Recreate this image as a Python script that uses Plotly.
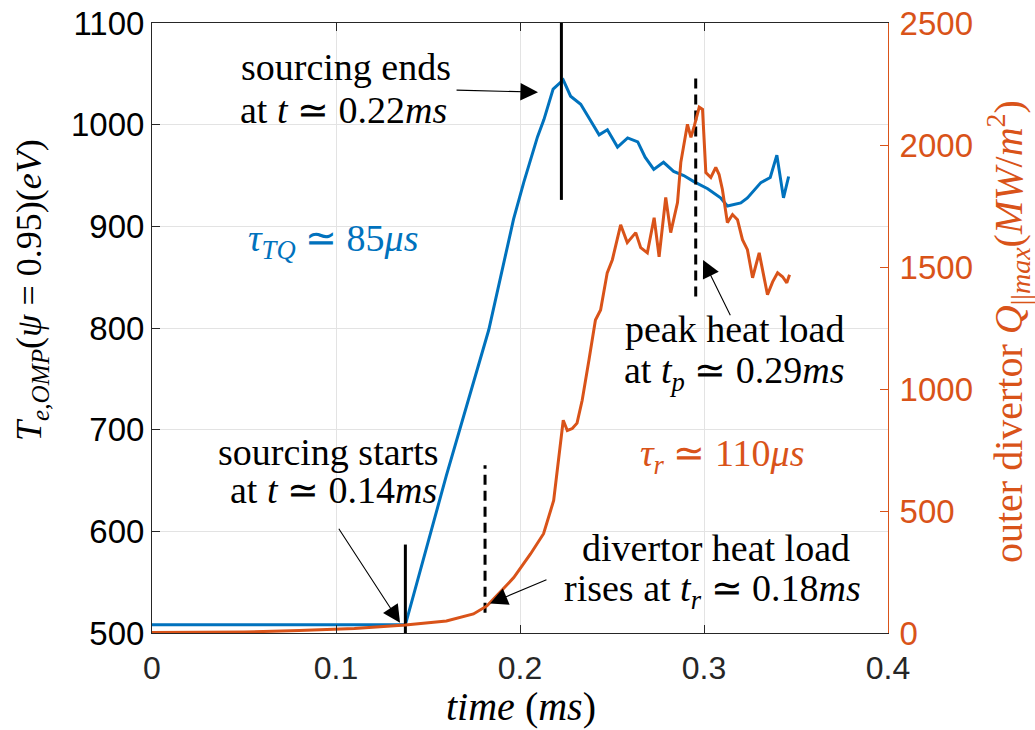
import plotly.graph_objects as go

# ---- data ----
t_te = [0.0, 0.05, 0.10, 0.1377, 0.16, 0.172, 0.183, 0.1965, 0.202, 0.2095, 0.213, 0.218, 0.2235,
        0.2275, 0.233, 0.238, 0.243, 0.2475, 0.253, 0.2585, 0.264, 0.268, 0.2727, 0.278, 0.2835,
        0.289, 0.2945, 0.302, 0.309, 0.3127, 0.32, 0.3236, 0.3309, 0.336, 0.3396, 0.3432, 0.346]
te = [508, 508, 508, 508, 655, 729, 798, 907, 943, 988, 1005, 1035, 1044,
      1028, 1020, 1005, 990, 995, 978, 987, 983, 968, 956, 963, 954,
      950, 944, 937, 928, 920, 923, 928, 943, 948, 970, 928, 949]

t_q = [0.0, 0.05, 0.08, 0.11, 0.1377, 0.16, 0.1747, 0.182, 0.189, 0.1966, 0.2057, 0.2128, 0.2183,
       0.221, 0.2235, 0.2257, 0.2284, 0.231, 0.2338, 0.2375, 0.241, 0.2438, 0.2474, 0.2502, 0.2547,
       0.2583, 0.2629, 0.2656, 0.2692, 0.2729, 0.2756, 0.2792, 0.2819, 0.2856, 0.2874, 0.291,
       0.2929, 0.2947, 0.2974, 0.2992, 0.301, 0.3037, 0.3064, 0.3082, 0.31, 0.3127, 0.3155,
       0.3182, 0.3209, 0.3236, 0.3264, 0.33, 0.3327, 0.3345, 0.3373, 0.34, 0.3427, 0.345, 0.3465]
q = [2, 4, 10, 18, 33, 49, 78, 111, 166, 227, 324, 407, 543,
     707, 872, 830, 838, 860, 954, 1120, 1283, 1324, 1476, 1530, 1673,
     1600, 1641, 1579, 1558, 1702, 1542, 1785, 1641, 1764, 1929, 2085,
     2031, 2077, 2155, 2146, 1887, 1867, 1908, 1879, 1818, 1682, 1715,
     1694, 1612, 1571, 1456, 1558, 1460, 1386, 1439, 1476, 1460, 1435, 1468]

# marker lines: time, y-range on left axis, dashed?
marker_t = [0.1377, 0.2225, 0.181, 0.2955]
marker_lo = [500, 926, 520, 831]
marker_hi = [587, 1100, 665, 1050]
marker_dash = [False, False, True, True]

x_ticks = [0, 0.1, 0.2, 0.3, 0.4]
x_tick_text = ["0", "0.1", "0.2", "0.3", "0.4"]
y_ticks = [500, 600, 700, 800, 900, 1000, 1100]
y2_ticks = [0, 500, 1000, 1500, 2000, 2500]

BLUE = "#0072BD"
ORANGE = "#D95319"
SERIF = "Liberation Serif"
SANS = "Liberation Sans"

fig = go.Figure()
fig.add_trace(go.Scatter(x=t_te, y=te, mode="lines", line=dict(color=BLUE, width=3),
                         yaxis="y", showlegend=False, hoverinfo="skip"))
fig.add_trace(go.Scatter(x=t_q, y=q, mode="lines", line=dict(color=ORANGE, width=3),
                         yaxis="y2", showlegend=False, hoverinfo="skip"))
for mt, lo, hi, d in zip(marker_t, marker_lo, marker_hi, marker_dash):
    fig.add_trace(go.Scatter(x=[mt, mt], y=[lo, hi], mode="lines",
                             line=dict(color="black", width=3, dash="10px,6px" if d else "solid"),
                             yaxis="y", showlegend=False, hoverinfo="skip"))

# texts: (text, x, y, color)
texts = [
    ("sourcing ends", 0.1054, 1057, "black"),
    ("at <i>t</i> ≃ 0.22<i>ms</i>", 0.1043, 1014, "black"),
    ("<i>τ</i><sub><i>TQ</i></sub> ≃ 85<i>μs</i>", 0.0984, 886, BLUE),
    ("sourcing starts", 0.0957, 678, "black"),
    ("at <i>t</i> ≃ 0.14<i>ms</i>", 0.0984, 641, "black"),
    ("peak heat load", 0.3166, 799, "black"),
    ("at <i>t</i><sub><i>p</i></sub> ≃ 0.29<i>ms</i>", 0.3166, 756, "black"),
    ("<i>τ</i><sub><i>r</i></sub> ≃ 110<i>μs</i>", 0.3098, 674, ORANGE),
    ("divertor heat load", 0.3065, 584, "black"),
    ("rises at <i>t</i><sub><i>r</i></sub> ≃ 0.18<i>ms</i>", 0.3046, 541, "black"),
]
annotations = []
for txt, x, y, c in texts:
    annotations.append(dict(text=txt, x=x, y=y, xref="x", yref="y", showarrow=False,
                            font=dict(family=SERIF, size=38, color=c), xanchor="center", yanchor="middle"))

# arrows: (head_x, head_y, tail_x, tail_y)
arrows = [
    (0.2098, 1032, 0.1647, 1034),
    (0.1348, 510, 0.101, 604),
    (0.2995, 867, 0.3147, 811),
    (0.1837, 529, 0.2152, 553),
]
for hx, hy, tx, ty in arrows:
    annotations.append(dict(text="", x=hx, y=hy, ax=tx, ay=ty, xref="x", yref="y",
                            axref="x", ayref="y", showarrow=True, arrowhead=2,
                            arrowsize=3.2, arrowwidth=1.1, arrowcolor="black"))

def px_to_paper(px, py):
    return (px - 152) / 736, (633 - py) / 610

# axis titles
lx, ly = px_to_paper(31, 290)
annotations.append(dict(text="<i>T</i><sub><i>e,OMP</i></sub>(<i>ψ</i> = 0.95)(<i>eV</i>)",
                        x=lx, y=ly, xref="paper", yref="paper", showarrow=False, textangle=-90,
                        xanchor="center", yanchor="middle",
                        font=dict(family=SERIF, size=36, color="black")))
rx, ry = px_to_paper(1008, 332)
annotations.append(dict(text="outer divertor <i>Q</i><sub>||<i>max</i></sub>(<i>MW</i>/<i>m</i><sup>2</sup>)",
                        x=rx, y=ry, xref="paper", yref="paper",
                        showarrow=False, textangle=-90, xanchor="center", yanchor="middle",
                        font=dict(family=SERIF, size=40, color=ORANGE)))
tx_, ty_ = px_to_paper(521, 706)
annotations.append(dict(text="<i>time</i> (<i>ms</i>)",
                        x=tx_, y=ty_, xref="paper", yref="paper", xanchor="center", yanchor="middle",
                        showarrow=False, font=dict(family=SERIF, size=40, color="black")))

fig.update_layout(
    width=1035, height=730,
    margin=dict(l=152, r=147, t=23, b=97),
    paper_bgcolor="white", plot_bgcolor="white",
    annotations=annotations,
    xaxis=dict(range=[0, 0.4], tickvals=x_ticks, ticktext=x_tick_text, automargin=False,
               ticks="inside", ticklen=8, tickcolor="#262626", showline=True, linecolor="#262626",
               linewidth=1, mirror="ticks", showgrid=True, gridcolor="#e3e3e3", zeroline=False,
               ticklabelstandoff=7,
               tickfont=dict(family=SANS, size=32, color="#262626")),
    yaxis=dict(range=[500, 1100], tickvals=y_ticks, ticks="inside", ticklen=8, tickcolor="#262626",
               showline=True, linecolor="#262626", linewidth=1, showgrid=True, gridcolor="#e3e3e3",
               automargin=False, zeroline=False, tickfont=dict(family=SANS, size=33, color="black")),
    yaxis2=dict(range=[0, 2500], tickvals=y2_ticks, overlaying="y", side="right", ticks="inside",
                ticklen=8, tickcolor=ORANGE, showline=True, linecolor=ORANGE, linewidth=1,
                automargin=False, ticklabelstandoff=4,
                showgrid=False, zeroline=False, tickfont=dict(family=SANS, size=33, color=ORANGE)),
)
fig.write_html("out.html")
